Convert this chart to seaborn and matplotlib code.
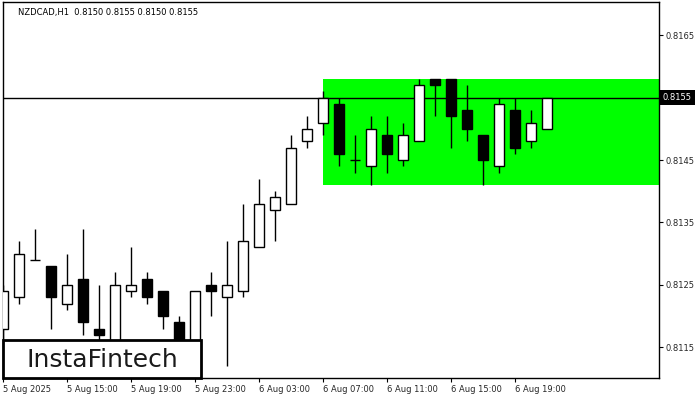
import numpy as np
import seaborn as sns
import matplotlib
matplotlib.use("Agg")
import matplotlib.pyplot as plt
import matplotlib.transforms as mtransforms
from matplotlib.patches import Rectangle

# hourly NZDCAD candles, 5 Aug 11:00 .. 6 Aug 21:00
opens = [0.8118, 0.8123, 0.8129, 0.8128, 0.8122, 0.8126, 0.8118, 0.8114, 0.8124, 0.8126,
         0.8124, 0.8119, 0.8113, 0.8125, 0.8123, 0.8124, 0.8131, 0.8137, 0.8138, 0.8148,
         0.8151, 0.8154, 0.8145, 0.8144, 0.8149, 0.8145, 0.8148, 0.8158, 0.8158, 0.8153,
         0.8149, 0.8144, 0.8153, 0.8148, 0.8150]
highs = [0.8125, 0.8132, 0.8134, 0.8128, 0.8130, 0.8134, 0.8125, 0.8127, 0.8131, 0.8127,
         0.8124, 0.8120, 0.8124, 0.8127, 0.8132, 0.8138, 0.8142, 0.8140, 0.8149, 0.8152,
         0.8156, 0.8155, 0.8149, 0.8152, 0.8152, 0.8151, 0.8158, 0.8158, 0.8158, 0.8157,
         0.8149, 0.8155, 0.8155, 0.8153, 0.8155]
lows = [0.8116, 0.8122, 0.8129, 0.8118, 0.8121, 0.8117, 0.8114, 0.8113, 0.8123, 0.8122,
        0.8118, 0.8114, 0.8112, 0.8120, 0.8112, 0.8123, 0.8131, 0.8132, 0.8138, 0.8147,
        0.8149, 0.8144, 0.8143, 0.8141, 0.8143, 0.8144, 0.8148, 0.8152, 0.8147, 0.8148,
        0.8141, 0.8143, 0.8146, 0.8147, 0.8150]
closes = [0.8124, 0.8130, 0.8129, 0.8123, 0.8125, 0.8119, 0.8117, 0.8125, 0.8125, 0.8123,
          0.8120, 0.8115, 0.8124, 0.8124, 0.8125, 0.8132, 0.8138, 0.8139, 0.8147, 0.8150,
          0.8155, 0.8146, 0.8145, 0.8150, 0.8146, 0.8149, 0.8157, 0.8157, 0.8152, 0.8150,
          0.8145, 0.8154, 0.8147, 0.8151, 0.8155]

tick_pos = [0, 4, 8, 12, 16, 20, 24, 28, 32]
tick_labels = ["5 Aug 2025", "5 Aug 15:00", "5 Aug 19:00", "5 Aug 23:00", "6 Aug 03:00",
               "6 Aug 07:00", "6 Aug 11:00", "6 Aug 15:00", "6 Aug 19:00"]
price_ticks = [0.8115, 0.8125, 0.8135, 0.8145, 0.8165]
pattern_start = 20
last_price = 0.8155

sns.set_theme(style="white")
plt.rcParams['font.family'] = ['DejaVu Sans']

fig = plt.figure(figsize=(7, 4), dpi=100)
ax = fig.add_axes([2.5 / 700, 1 - 378 / 400, (659 - 2.5) / 700, (378 - 2) / 400])

x = np.arange(len(opens))
o = np.array(opens)
c = np.array(closes)

# rectangle pattern zone
box_top = max(highs[pattern_start:])
box_bot = min(lows[pattern_start:])
ax.add_patch(Rectangle((pattern_start, box_bot), 50, box_top - box_bot,
                       facecolor='#00ff00', edgecolor='none', zorder=1))

ax.axhline(last_price, color='black', lw=1, zorder=2)

ax.vlines(x, lows, highs, color='black', lw=1, zorder=3)
colors = ['white' if cl >= op else 'black' for op, cl in zip(opens, closes)]
ax.bar(x, np.abs(c - o), bottom=np.minimum(o, c), width=0.625, color=colors,
       edgecolor='black', linewidth=1, zorder=4)

ax.set_xlim(-0.05, 41)
ax.set_ylim(0.81101, 0.81703)

ax.set_xticks(tick_pos)
ax.set_xticklabels(tick_labels, fontsize=6, ha='left')
ax.yaxis.tick_right()
ax.set_yticks(price_ticks)
ax.set_yticklabels([f"{p:.4f}" for p in price_ticks], fontsize=6)
ax.tick_params(axis='both', direction='out', length=3, width=0.8, color='black',
               pad=2, bottom=True, right=True, left=False)
for s in ax.spines.values():
    s.set_color('black')
    s.set_linewidth(1)

trans = mtransforms.blended_transform_factory(ax.transAxes, ax.transData)
ax.text(1.006, last_price, f"{last_price:.4f}", transform=trans, fontsize=6, color='white',
        va='center', ha='left',
        bbox=dict(boxstyle='square,pad=0.35', facecolor='black', edgecolor='none'))

fig.text(18 / 700, 1 - 12 / 400, "NZDCAD,H1  0.8150 0.8155 0.8150 0.8155",
         fontsize=6, va='center', ha='left', color='black')

# logo box
fig.patches.append(Rectangle((3 / 700, 1 - 378 / 400), 198 / 700, 38 / 400,
                             transform=fig.transFigure, facecolor='white',
                             edgecolor='black', linewidth=2, zorder=10))
fig.text(102 / 700, 1 - 360 / 400, "InstaFintech", fontsize=18, color='#1a1a1a',
         ha='center', va='center', zorder=11)

fig.savefig("out.png", dpi=100)
